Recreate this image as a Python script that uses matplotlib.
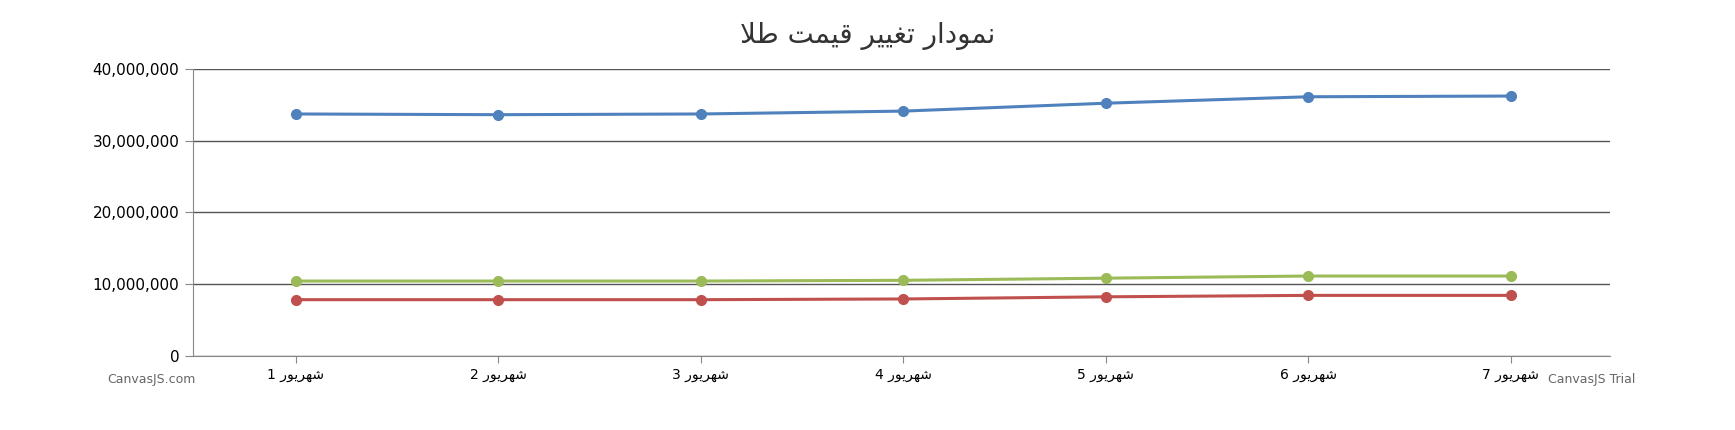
import matplotlib

matplotlib.use("Agg")
import matplotlib.pyplot as plt
from matplotlib.ticker import FuncFormatter

TITLE = "نمودار تغییر قیمت طلا"
MONTH = "شهریور"
days = [1, 2, 3, 4, 5, 6, 7]
blue_vals = [33.7e6, 33.6e6, 33.7e6, 34.1e6, 35.2e6, 36.1e6, 36.2e6]
green_vals = [10.4e6, 10.4e6, 10.4e6, 10.5e6, 10.8e6, 11.1e6, 11.1e6]
red_vals = [7.8e6, 7.8e6, 7.8e6, 7.9e6, 8.2e6, 8.4e6, 8.4e6]
yticks = [0, 10e6, 20e6, 30e6, 40e6]

# minimal Arabic/Persian shaping: (isolated, final, initial, medial)
FORMS = {
    "ا": (0xFE8D, 0xFE8E, None, None),
    "ب": (0xFE8F, 0xFE90, 0xFE91, 0xFE92),
    "ت": (0xFE95, 0xFE96, 0xFE97, 0xFE98),
    "د": (0xFEA9, 0xFEAA, None, None),
    "ر": (0xFEAD, 0xFEAE, None, None),
    "ش": (0xFEB5, 0xFEB6, 0xFEB7, 0xFEB8),
    "ط": (0xFEC1, 0xFEC2, 0xFEC3, 0xFEC4),
    "غ": (0xFECD, 0xFECE, 0xFECF, 0xFED0),
    "ق": (0xFED5, 0xFED6, 0xFED7, 0xFED8),
    "ل": (0xFEDD, 0xFEDE, 0xFEDF, 0xFEE0),
    "م": (0xFEE1, 0xFEE2, 0xFEE3, 0xFEE4),
    "ن": (0xFEE5, 0xFEE6, 0xFEE7, 0xFEE8),
    "ه": (0xFEE9, 0xFEEA, 0xFEEB, 0xFEEC),
    "و": (0xFEED, 0xFEEE, None, None),
    "ی": (0xFBFC, 0xFBFD, 0xFBFE, 0xFBFF),
}


def shape(text):
    out = []
    for word in text.split(" "):
        w = word.replace("لا", "\uE000")
        chars = list(w)
        res = []
        for i, c in enumerate(chars):
            prev = chars[i - 1] if i > 0 else None
            joins_prev = prev is not None and prev != "\uE000" and FORMS[prev][2] is not None
            if c == "\uE000":
                res.append(chr(0xFEFC) if joins_prev else chr(0xFEFB))
                continue
            f = FORMS[c]
            nxt = chars[i + 1] if i + 1 < len(chars) else None
            joins_next = nxt is not None and f[2] is not None
            if joins_prev and joins_next:
                cp = f[3]
            elif joins_prev:
                cp = f[1]
            elif joins_next:
                cp = f[2]
            else:
                cp = f[0]
            res.append(chr(cp))
        out.append("".join(reversed(res)))
    return " ".join(reversed(out))


plt.rcParams["font.family"] = ["DejaVu Sans", "Noto Sans"]

fig = plt.figure(figsize=(17.35, 4.30), dpi=100, facecolor="white")
ax = fig.add_axes([0.111, 0.173, 0.817, 0.667])
x = list(range(len(days)))
for vals, col in [(blue_vals, "#4f81bc"), (green_vals, "#9bbb58"), (red_vals, "#c0504e")]:
    ax.plot(x, vals, color=col, lw=2.2, marker="o", ms=7, zorder=3)

ax.set_xlim(-0.51, 6.49)
ax.set_ylim(0, 40e6)
ax.set_yticks(yticks)
ax.yaxis.set_major_formatter(FuncFormatter(lambda v, p: f"{int(v):,}"))
ax.set_xticks(x, [f"{d} {shape(MONTH)}" for d in days])
ax.grid(axis="y", color="#555555", lw=1)
ax.set_axisbelow(True)
for s in ("top", "right"):
    ax.spines[s].set_visible(False)
ax.spines["left"].set_color("#888888")
ax.spines["bottom"].set_color("#888888")
ax.tick_params(axis="y", labelsize=11, colors="#000000", length=6, color="#888888")
ax.tick_params(axis="x", labelsize=10, colors="#000000", length=5, color="#888888", pad=4)

fig.suptitle(shape(TITLE), y=0.95, fontsize=20, color="#333333")
fig.text(0.062, 0.11, "CanvasJS.com", fontsize=9, color="#666666")
fig.text(0.892, 0.11, "CanvasJS Trial", fontsize=9, color="#666666")

fig.savefig("out.png", dpi=100, facecolor="white")
